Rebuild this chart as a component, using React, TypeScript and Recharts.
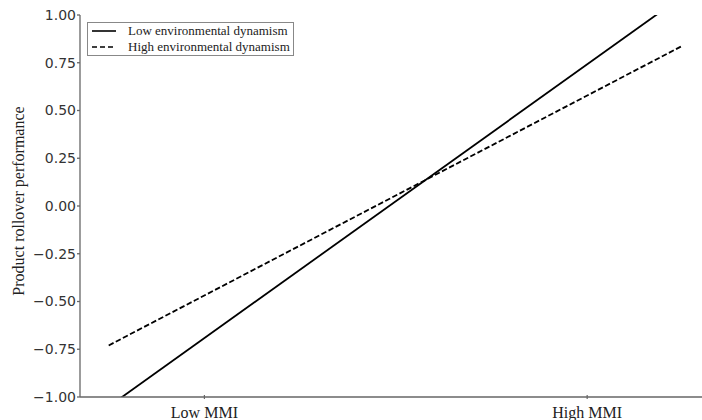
import { LineChart, Line, XAxis, YAxis, Legend } from "recharts"

const xPositions = [-1.5, 1.5]
const lowDynamism = [-1.05, 1.1]
const highDynamism = [-0.73, 0.84]
const xTicks = [-1, 1]
const xTickLabels = ["Low MMI", "High MMI"]
const yTicks = [-1, -0.75, -0.5, -0.25, 0, 0.25, 0.5, 0.75, 1]
const seriesNames = ["Low environmental dynamism", "High environmental dynamism"]

const lowData = xPositions.map((x, i) => ({ x, y: lowDynamism[i] }))
const highData = xPositions.map((x, i) => ({ x, y: highDynamism[i] }))

const axisColor = "#666"
const serif = "'Liberation Serif', 'Times New Roman', serif"

const XTick = ({ x, y, payload }) => {
  const label = xTickLabels[xTicks.indexOf(payload.value)]
  return (
    <g>
      <line x1={x} x2={x} y1={y} y2={y - 4} stroke={axisColor} strokeWidth={1.2} />
      <text x={x} y={y + 19} textAnchor="middle" fontSize={16} fontFamily={serif} fill="#222">
        {label}
      </text>
    </g>
  )
}

const LegendBox = () => (
  <svg width={207} height={34}>
    <rect x={0.5} y={0.5} width={206} height={33} fill="#fff" stroke="#888" strokeWidth={1} />
    <line x1={5} x2={29} y1={9} y2={9} stroke="#000" strokeWidth={1.6} />
    <line x1={5} x2={29} y1={25} y2={25} stroke="#000" strokeWidth={1.6} strokeDasharray="5 3" />
    <text x={41} y={13} fontSize={13} fontFamily={serif} fill="#222">{seriesNames[0]}</text>
    <text x={41} y={29} fontSize={13} fontFamily={serif} fill="#222">{seriesNames[1]}</text>
  </svg>
)

const App = () => {

  return (

    <div style={{ position: "absolute", left: 0, top: 0 }}>

      <LineChart width={702} height={420} margin={{ top: 15, right: 0, left: 0, bottom: 0 }}>

        <XAxis
          type="number"
          dataKey="x"
          domain={[-1.65, 1.6]}
          allowDataOverflow
          ticks={xTicks}
          tickSize={0}
          tickLine={false}
          tick={<XTick />}
          height={23}
          stroke={axisColor}
          strokeWidth={1.3}
        />

        <YAxis
          type="number"
          dataKey="y"
          domain={[-1, 1]}
          allowDataOverflow
          ticks={yTicks}
          width={80}
          tickSize={3}
          tickMargin={1}
          stroke={axisColor}
          strokeWidth={1.3}
          tickFormatter={(v) => v.toFixed(2).replace("-", "\u2212")}
          tick={{ fontSize: 14, fontFamily: "'DejaVu Sans', sans-serif", fill: "#333" }}
          label={{
            value: "Product rollover performance",
            angle: -90,
            position: "center",
            dx: -22,
            dy: -5,
            style: { fontSize: 16, fontFamily: serif, fill: "#222" }
          }}
        />

        <Legend
          layout="vertical"
          align="center"
          verticalAlign="middle"
          content={<LegendBox />}
          wrapperStyle={{ left: 87, top: 22, width: 207, height: 34 }}
        />

        <Line data={lowData} dataKey="y" name={seriesNames[0]} stroke="#000" strokeWidth={1.8} dot={false} isAnimationActive={false} />

        <Line data={highData} dataKey="y" name={seriesNames[1]} stroke="#000" strokeWidth={1.8} strokeDasharray="5.5 2.5" dot={false} isAnimationActive={false} />

      </LineChart>

    </div>

  )

}

export default App
